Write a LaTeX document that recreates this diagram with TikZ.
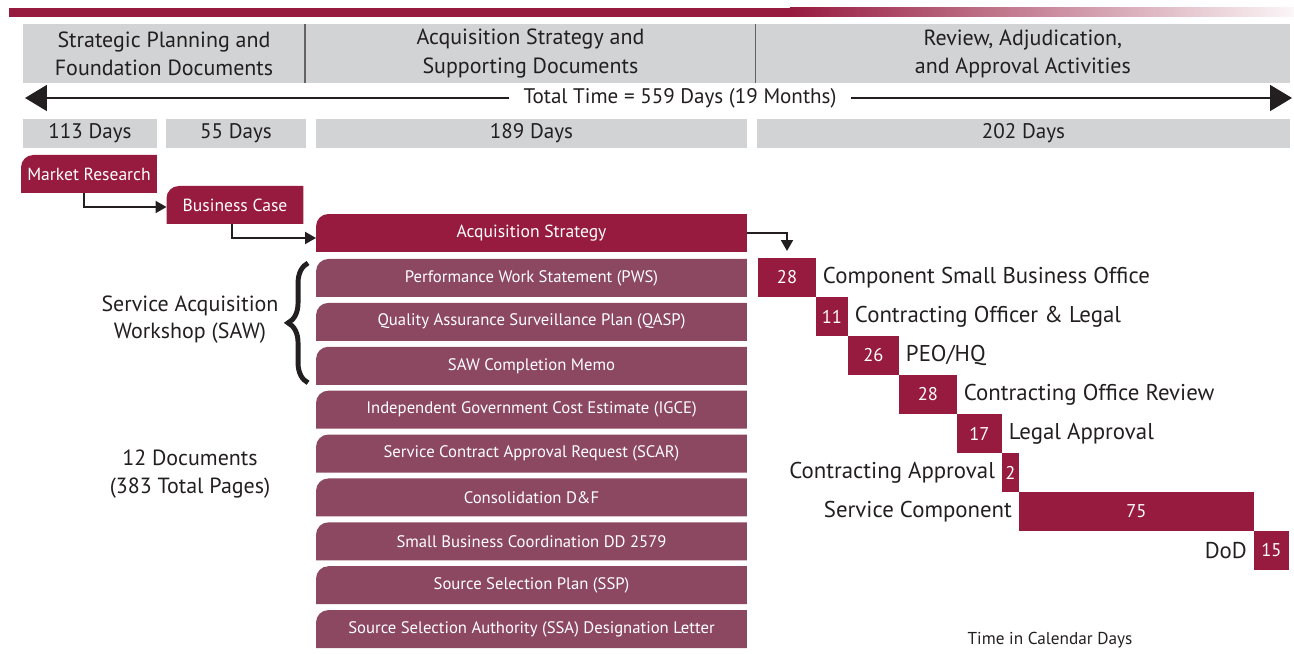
\documentclass[tikz,border=0pt]{standalone}
\usepackage{fontspec}
\setmainfont{PT Sans}
\usetikzlibrary{positioning,arrows.meta,decorations.pathreplacing}
\definecolor{maroon}{HTML}{961B3F}
\definecolor{plum}{HTML}{8C4761}
\definecolor{band}{HTML}{D1D3D4}
\definecolor{ink}{HTML}{231F20}

\begin{document}
\begin{tikzpicture}[x=0.02cm,y=-0.02cm,node distance=0.118cm,>={Triangle[length=2.2mm,width=2.4mm]},
    every node/.style={outer sep=0pt},
    band node/.style={fill=band,text=ink,inner sep=0pt,minimum height=1.18cm,align=center,font=\fontsize{12.5}{16}\selectfont},
    day node/.style={fill=band,text=ink,inner sep=0pt,minimum height=0.58cm,font=\fontsize{12}{15}\selectfont},
    tab node/.style={inner sep=0pt,minimum height=0.76cm,text=white,font=\fontsize{10}{12}\selectfont,
        path picture={\fill[#1] (path picture bounding box.south west) -- ([yshift=-7pt]path picture bounding box.north west)
            arc[start angle=180,end angle=90,radius=7pt] -- (path picture bounding box.north east) -- (path picture bounding box.south east) -- cycle;}},
    doc node/.style={tab node=plum,minimum width=8.62cm,font=\fontsize{9.5}{11}\selectfont},
    stair node/.style={fill=maroon,text=white,inner sep=0pt,minimum height=0.78cm,anchor=north west,font=\fontsize{10.5}{12}\selectfont},
    label node/.style={text=ink,inner sep=0pt,font=\fontsize{13}{15}\selectfont},
    link/.style={->,draw=ink,line width=1.1pt}]

    % top bar
    \fill[maroon] (9,8) rectangle (791,17);
    \shade[left color=maroon,right color=maroon!4] (790,8) rectangle (1294,17);

    % phases
    \node[band node,minimum width=5.64cm] (h1) at (164,53.5) {Strategic Planning and\\Foundation Documents};
    \node[band node,minimum width=9.02cm,right=0pt of h1] (h2) {Acquisition Strategy and\\Supporting Documents};
    \node[band node,minimum width=10.68cm,right=0pt of h2] (h3) {Review, Adjudication,\\and Approval Activities};
    \draw[ink!70,line width=0.6pt] (h1.north east) -- (h1.south east);
    \draw[ink!70,line width=0.6pt] (h2.north east) -- (h2.south east);

    % total time
    \node[label node,inner xsep=8pt,font=\fontsize{12}{15}\selectfont] (total) at (680,98) {Total Time = 559 Days (19 Months)};
    \coordinate (tl) at (25,98);
    \coordinate (tr) at (1292,98);
    \draw[->,ink,line width=1pt,>={Triangle[length=4.4mm,width=5.2mm]}] (total.west) -- (tl);
    \draw[->,ink,line width=1pt,>={Triangle[length=4.4mm,width=5.2mm]}] (total.east) -- (tr);

    \node[day node,minimum width=2.68cm] (d1) at (90,133.5) {113 Days};
    \node[day node,minimum width=2.8cm] (d2) at (236,133.5) {55 Days};
    \node[day node,minimum width=8.62cm] (d3) at (531.5,133.5) {189 Days};
    \node[day node,minimum width=10.66cm] (d4) at (1023.5,133.5) {202 Days};

    % documents
    \node[tab node=maroon,minimum width=2.72cm] (mr) at (89,174) {Market Research};
    \node[tab node=maroon,minimum width=2.74cm] (bc) at (235,205) {Business Case};
    \node[tab node=maroon,minimum width=8.62cm] (acq) at (531.5,233) {Acquisition Strategy};
    \node[doc node,below=0.14cm of acq] (pws) {Performance Work Statement (PWS)};
    \node[doc node,below=of pws] (qasp) {Quality Assurance Surveillance Plan (QASP)};
    \node[doc node,below=of qasp] (saw) {SAW Completion Memo};
    \node[doc node,below=of saw] (igce) {Independent Government Cost Estimate (IGCE)};
    \node[doc node,below=of igce] (scar) {Service Contract Approval Request (SCAR)};
    \node[doc node,below=of scar] (cdf) {Consolidation D\&F};
    \node[doc node,below=of cdf] (sbc) {Small Business Coordination DD 2579};
    \node[doc node,below=of sbc] (ssp) {Source Selection Plan (SSP)};
    \node[doc node,below=of ssp] (ssa) {Source Selection Authority (SSA) Designation Letter};

    \draw[link] ([xshift=1.26cm]mr.south west) |- ([yshift=-0.04cm]bc.west);
    \draw[link] ([xshift=1.31cm]bc.south west) |- ([yshift=-0.1cm]acq.west);

    \node[label node,align=center,font=\fontsize{12.5}{15.3}\selectfont] (sawtxt) at (190,320) {Service Acquisition\\Workshop (SAW)};
    \draw[ink,line width=2.8pt,decorate,decoration={brace,amplitude=0.4cm}]
        ([xshift=-0.16cm,yshift=0.04cm]saw.south west) -- ([xshift=-0.16cm,yshift=-0.08cm]pws.north west);
    \node[label node,align=center,font=\fontsize{12.5}{16}\selectfont] (docs) at (190,474) {12 Documents\\(383 Total Pages)};

    % review steps
    \node[stair node,minimum width=1.16cm] (csbo) at (758,258) {28};
    \node[stair node,minimum width=0.64cm] (col) at (csbo.south east) {11};
    \node[stair node,minimum width=1.02cm] (peo) at (col.south east) {26};
    \node[stair node,minimum width=1.16cm] (cor) at (peo.south east) {28};
    \node[stair node,minimum width=0.9cm] (la) at (cor.south east) {17};
    \node[stair node,minimum width=0.34cm] (ca) at (la.south east) {2};
    \node[stair node,minimum width=4.7cm] (sc) at (ca.south east) {75};
    \node[stair node,minimum width=0.7cm] (dod) at (sc.south east) {15};

    \draw[link,shorten >=0.14cm] (acq.east) -| (csbo.north);

    \node[label node,right=0.14cm of csbo] (csbo-txt) {Component Small Business Office};
    \node[label node,right=0.14cm of col] (col-txt) {Contracting Officer \& Legal};
    \node[label node,right=0.14cm of peo] (peo-txt) {PEO/HQ};
    \node[label node,right=0.14cm of cor] (cor-txt) {Contracting Office Review};
    \node[label node,right=0.14cm of la] (la-txt) {Legal Approval};
    \node[label node,left=0.14cm of ca] (ca-txt) {Contracting Approval};
    \node[label node,left=0.14cm of sc] (sc-txt) {Service Component};
    \node[label node,left=0.14cm of dod] (dod-txt) {DoD};

    \node[text=ink,font=\fontsize{9.8}{11}\selectfont] (unit) at (1050,640) {Time in Calendar Days};

    \useasboundingbox (0,0) rectangle (1294,649);
\end{tikzpicture}
\end{document}
